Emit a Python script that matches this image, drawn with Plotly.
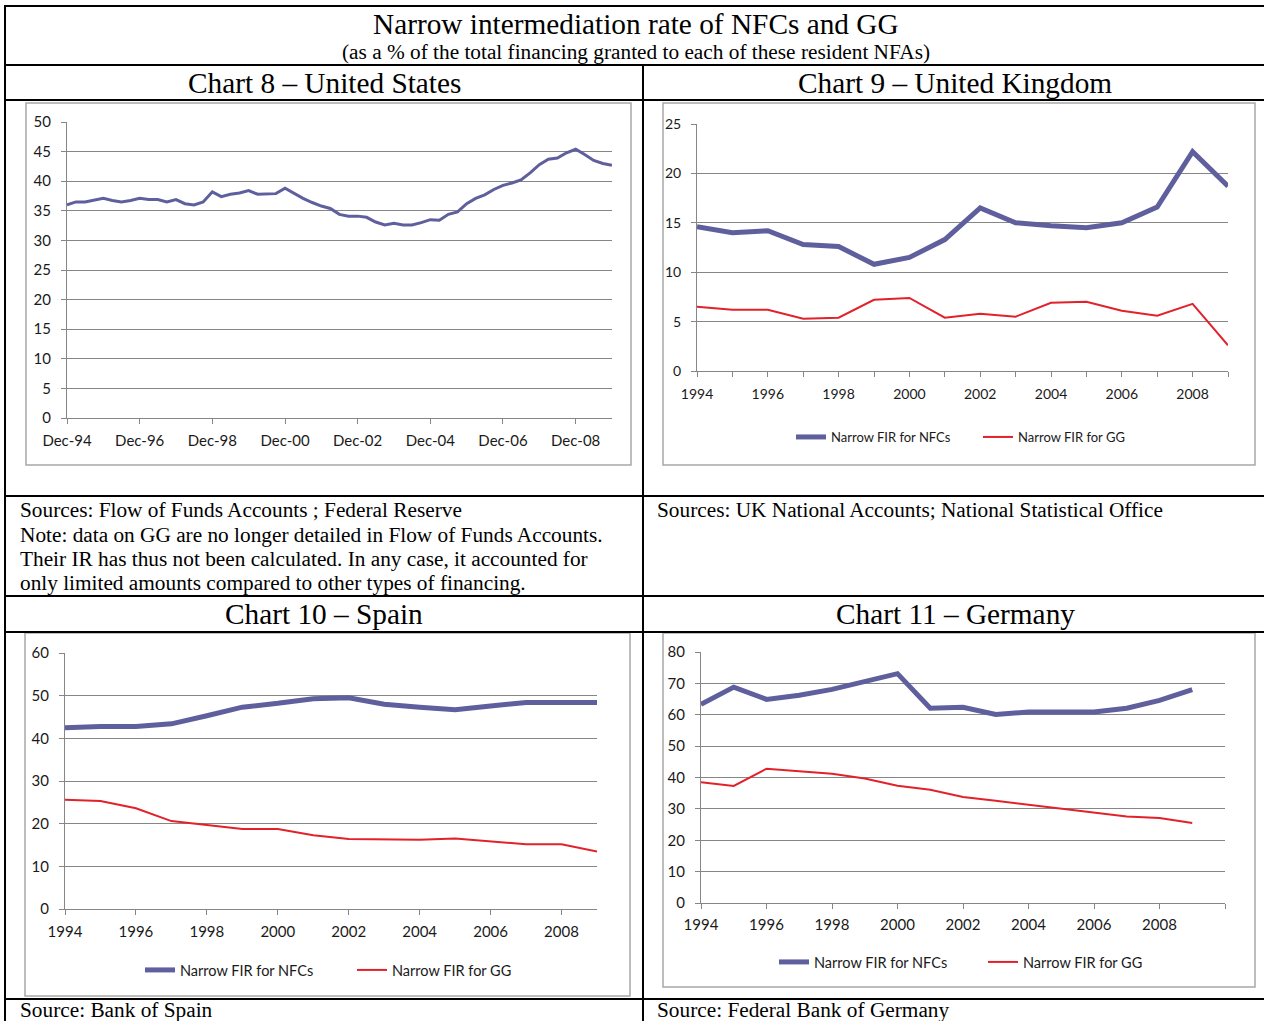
import pandas as pd
import plotly.graph_objects as go

W, H = 1264, 1021

# ---------------- data ----------------
us_nfc = [36.0, 36.5, 36.5, 36.75, 37.1, 36.75, 36.5, 36.75, 37.1, 36.9,
          36.9, 36.5, 36.9, 36.2, 36.0, 36.5, 38.2, 37.4, 37.8, 38.0,
          38.4, 37.8, 37.9, 37.9, 38.8, 37.9, 37.1, 36.4, 35.8, 35.4,
          34.4, 34.1, 34.1, 33.9, 33.1, 32.6, 32.9, 32.6, 32.6, 33.0,
          33.5, 33.4, 34.4, 34.8, 36.2, 37.1, 37.7, 38.6, 39.3, 39.7,
          40.2, 41.4, 42.8, 43.7, 43.9, 44.8, 45.4, 44.5, 43.5, 43.0, 42.7]
us_quarters = pd.date_range("1994-12-31", periods=len(us_nfc), freq="QE")

years = list(range(1994, 2010))

uk_nfc = [14.6, 14.0, 14.2, 12.8, 12.6, 10.8, 11.5, 13.3, 16.5, 15.0, 14.7, 14.5, 15.0, 16.6, 22.2, 18.7]
uk_gg = [6.5, 6.2, 6.2, 5.3, 5.4, 7.2, 7.4, 5.4, 5.8, 5.5, 6.9, 7.0, 6.1, 5.6, 6.8, 2.6]

es_nfc = [42.5, 42.8, 42.8, 43.4, 45.3, 47.3, 48.2, 49.3, 49.5, 48.0, 47.3, 46.7, 47.6, 48.4, 48.4, 48.4]
es_gg = [25.6, 25.3, 23.6, 20.6, 19.7, 18.75, 18.75, 17.3, 16.4, 16.4, 16.25, 16.5, 15.9, 15.2, 15.2, 13.5]

de_nfc = [63.3, 68.8, 64.9, 66.2, 68.1, 70.7, 73.1, 62.1, 62.4, 60.1, 60.9, 60.9, 60.9, 62.1, 64.6, 68.0]
de_gg = [38.5, 37.3, 42.8, 42.0, 41.2, 39.7, 37.4, 36.1, 33.8, 32.6, 31.4, 30.2, 28.9, 27.6, 27.1, 25.5]

name_nfc = "Narrow FIR for NFCs"
name_gg = "Narrow FIR for GG"

# ---------------- styles ----------------
C_NFC = "#5f5f9e"
C_GG = "#e2212b"
GRID = "#868686"
SERIF = "Liberation Serif, Times New Roman, serif"
SANS = "Lato, Open Sans, sans-serif"


def px(x):
    return x / W


def py(y):
    return 1 - y / H


fig = go.Figure()

# US
fig.add_trace(go.Scatter(x=us_quarters, y=us_nfc, mode="lines", name=name_nfc,
                         line=dict(color=C_NFC, width=3), xaxis="x", yaxis="y",
                         showlegend=False))
# UK
fig.add_trace(go.Scatter(x=years, y=uk_nfc, mode="lines", name=name_nfc,
                         line=dict(color=C_NFC, width=5), xaxis="x2", yaxis="y2",
                         legend="legend2"))
fig.add_trace(go.Scatter(x=years, y=uk_gg, mode="lines", name=name_gg,
                         line=dict(color=C_GG, width=2), xaxis="x2", yaxis="y2",
                         legend="legend2"))
# Spain
fig.add_trace(go.Scatter(x=years, y=es_nfc, mode="lines", name=name_nfc,
                         line=dict(color=C_NFC, width=5), xaxis="x3", yaxis="y3",
                         legend="legend3"))
fig.add_trace(go.Scatter(x=years, y=es_gg, mode="lines", name=name_gg,
                         line=dict(color=C_GG, width=2), xaxis="x3", yaxis="y3",
                         legend="legend3"))
# Germany
fig.add_trace(go.Scatter(x=years, y=de_nfc, mode="lines", name=name_nfc,
                         line=dict(color=C_NFC, width=5), xaxis="x4", yaxis="y4",
                         legend="legend4"))
fig.add_trace(go.Scatter(x=years, y=de_gg, mode="lines", name=name_gg,
                         line=dict(color=C_GG, width=2), xaxis="x4", yaxis="y4",
                         legend="legend4"))


def tf(size):
    return dict(family=SANS, size=size, color="#1a1a1a")


def xax(x0, x1, size=15, standoff=6, **kw):
    d = dict(domain=[px(x0), px(x1)], showgrid=False, zeroline=False, automargin=False,
             showline=True, linecolor=GRID, linewidth=1,
             ticks="outside", ticklen=5, tickcolor=GRID, tickwidth=1,
             tickfont=tf(size), ticklabelstandoff=standoff, fixedrange=True)
    d.update(kw)
    return d


def yax(y0, y1, anchor, size=15, **kw):
    d = dict(domain=[py(y0), py(y1)], anchor=anchor, showgrid=True, gridcolor=GRID,
             gridwidth=1, zeroline=False, showline=True, linecolor=GRID, linewidth=1,
             automargin=False, ticks="outside", ticklen=5, tickcolor=GRID, tickwidth=1,
             tickfont=tf(size), ticklabelstandoff=7, fixedrange=True)
    d.update(kw)
    return d


def leg(x_left, y, size, entry):
    return dict(orientation="h", x=px(x_left), y=py(y), xanchor="left", yanchor="middle",
                font=tf(size), bgcolor="rgba(0,0,0,0)", entrywidth=entry,
                entrywidthmode="pixels")


layout = dict(
    template="none",
    width=W, height=H, autosize=False,
    margin=dict(l=0, r=0, t=0, b=0, pad=0),
    paper_bgcolor="white", plot_bgcolor="white",
    xaxis=xax(67, 612, standoff=4, anchor="y", type="date",
              range=[us_quarters[0], us_quarters[-1]],
              tickvals=us_quarters[::8], tickformat="%b-%y"),
    yaxis=yax(418, 122, "x", range=[0, 50], dtick=5),
    xaxis2=xax(697, 1228, size=14, standoff=5, anchor="y2", range=[1994, 2009], dtick=2, tick0=1994,
               minor=dict(dtick=1, ticks="outside", ticklen=5, tickcolor=GRID, showgrid=False)),
    yaxis2=yax(371, 124, "x2", size=14, range=[0, 25], dtick=5),
    xaxis3=xax(65, 597, standoff=4, anchor="y3", range=[1994, 2009], dtick=2, tick0=1994),
    yaxis3=yax(909, 653, "x3", range=[0, 60], dtick=10),
    xaxis4=xax(701, 1225, standoff=3, anchor="y4", range=[1994, 2010],
               tickvals=years[::2] + [2010],
               ticktext=[str(v) for v in years[::2]] + [""]),
    yaxis4=yax(903, 652, "x4", range=[0, 80], dtick=10),
    legend2=leg(791, 437, 13, 142),
    legend3=leg(140, 970, 14.5, 167),
    legend4=leg(774, 962, 14.5, 164),
    hovermode=False,
)
fig.update_layout(**layout)

shapes = []
# table lines
for yy in [6, 65, 100, 496, 596, 632, 999]:
    shapes.append(dict(type="line", xref="paper", yref="paper", x0=px(4), x1=1,
                       y0=py(yy), y1=py(yy), line=dict(color="black", width=2)))
shapes.append(dict(type="line", xref="paper", yref="paper", x0=px(5), x1=px(5),
                   y0=py(5), y1=0, line=dict(color="black", width=2)))
shapes.append(dict(type="line", xref="paper", yref="paper", x0=px(643), x1=px(643),
                   y0=py(65), y1=0, line=dict(color="black", width=2)))
# chart frames
for (a, b, c, d) in [(26, 103, 631, 465), (663, 103, 1255, 465),
                     (25, 633, 630, 996), (663, 633, 1255, 987)]:
    shapes.append(dict(type="rect", xref="paper", yref="paper", x0=px(a), x1=px(c),
                       y0=py(d), y1=py(b), line=dict(color="#a8a8a8", width=1.5),
                       fillcolor="rgba(0,0,0,0)", layer="below"))
fig.update_layout(shapes=shapes)

anns = []


def text(t, x, y, size, xanchor="center"):
    anns.append(dict(text=t, x=px(x), y=py(y), xref="paper", yref="paper",
                     xanchor=xanchor, yanchor="middle", showarrow=False,
                     font=dict(family=SERIF, size=size, color="black")))


TS = 29.3
SS = 21.3
text("Narrow intermediation rate of NFCs and GG", 636, 24, TS)
text("(as a % of the total financing granted to each of these resident NFAs)", 636, 52, SS)
text("Chart 8 – United States", 324, 83, TS)
text("Chart 9 – United Kingdom", 955, 83, TS)
text("Chart 10 – Spain", 324, 614, TS)
text("Chart 11 – Germany", 955, 614, TS)
text("Sources: Flow of Funds Accounts ; Federal Reserve", 18, 510, SS, "left")
text("Note: data on GG are no longer detailed in Flow of Funds Accounts.", 18, 535, SS, "left")
text("Their IR has thus not been calculated. In any case, it accounted for", 18, 559, SS, "left")
text("only limited amounts compared to other types of financing.", 18, 583, SS, "left")
text("Sources: UK National Accounts; National Statistical Office", 655, 510, SS, "left")
text("Source: Bank of Spain", 18, 1010, SS, "left")
text("Source: Federal Bank of Germany", 655, 1010, SS, "left")
fig.update_layout(annotations=anns)

fig.write_html("out.html", config={"displayModeBar": False},
               post_script="document.body.style.margin='0';document.body.style.overflow='hidden';")
